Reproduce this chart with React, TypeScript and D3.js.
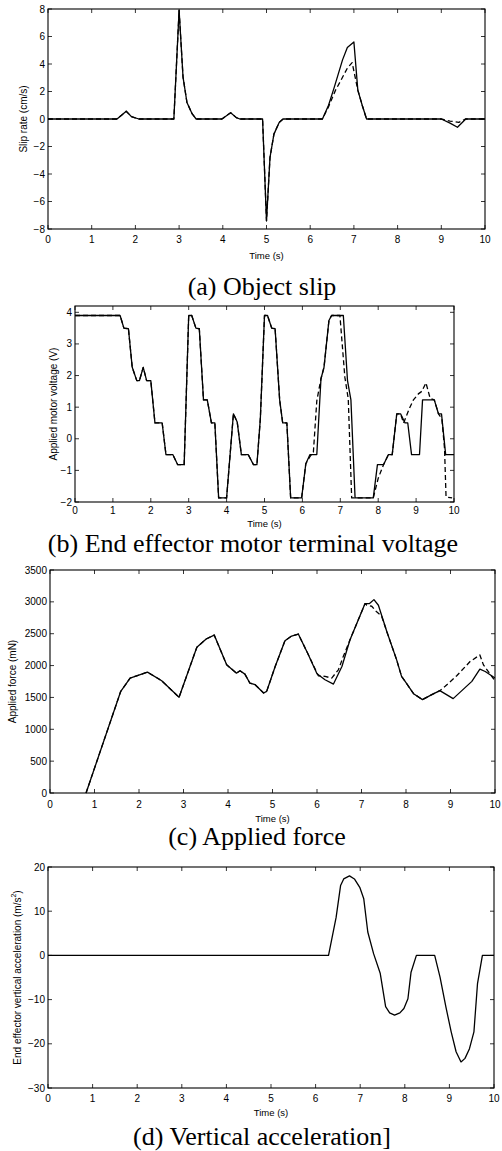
import React from "react";
import * as d3 from "d3";

// ---------- DATA ----------
const xTicks = [0, 1, 2, 3, 4, 5, 6, 7, 8, 9, 10];

// (a) Object slip
const slipTicks = [-8, -6, -4, -2, 0, 2, 4, 6, 8];
const slipSolidT = [0, 1.58, 1.79, 1.91, 2.08, 2.88, 3.0, 3.09, 3.18, 3.3, 3.39, 3.98, 4.18, 4.31, 4.39, 4.91, 5.0, 5.08, 5.17, 5.29, 5.38, 6.28, 6.42, 6.55, 6.74, 6.85, 7.0, 7.09, 7.19, 7.29, 9.0, 9.2, 9.37, 9.56, 10];
const slipSolid = [0, 0, 0.56, 0.17, 0, 0, 7.9, 3.05, 1.2, 0.37, 0, 0, 0.46, 0.1, 0, 0, -7.4, -2.8, -1.1, -0.25, 0, 0, 1.0, 2.3, 4.3, 5.2, 5.6, 2.1, 1.0, 0, 0, -0.3, -0.6, 0, 0];
const slipDashT = [0, 1.58, 1.79, 1.91, 2.08, 2.88, 3.0, 3.09, 3.18, 3.3, 3.39, 3.98, 4.18, 4.31, 4.39, 4.91, 5.0, 5.08, 5.17, 5.29, 5.38, 6.28, 6.42, 6.58, 6.7, 6.85, 6.96, 7.09, 7.19, 7.29, 9.0, 9.2, 9.4, 9.55, 10];
const slipDash = [0, 0, 0.56, 0.17, 0, 0, 7.9, 3.05, 1.2, 0.37, 0, 0, 0.46, 0.1, 0, 0, -7.4, -2.8, -1.1, -0.25, 0, 0, 0.9, 2.1, 2.8, 3.7, 4.1, 2.1, 1.0, 0, 0, -0.15, -0.25, 0, 0];

// (b) Motor voltage
const voltTicks = [-2, -1, 0, 1, 2, 3, 4];
const voltSolidT = [0, 1.19, 1.29, 1.41, 1.51, 1.63, 1.70, 1.80, 1.89, 2.0, 2.11, 2.30, 2.40, 2.58, 2.71, 2.88, 3.0, 3.08, 3.19, 3.28, 3.39, 3.49, 3.6, 3.69, 3.79, 4.0, 4.18, 4.28, 4.39, 4.57, 4.71, 4.80, 4.89, 5.0, 5.08, 5.19, 5.28, 5.40, 5.48, 5.59, 5.69, 5.98, 6.09, 6.2, 6.38, 6.49, 6.57, 6.70, 6.77, 7.08, 7.19, 7.28, 7.39, 7.87, 7.98, 8.14, 8.27, 8.37, 8.49, 8.59, 8.71, 8.78, 8.88, 9.09, 9.17, 9.48, 9.59, 9.67, 9.78, 10];
const voltSolid = [3.9, 3.9, 3.5, 3.48, 2.26, 1.84, 1.84, 2.26, 1.84, 1.84, 0.5, 0.5, -0.5, -0.5, -0.82, -0.82, 3.9, 3.9, 3.5, 3.48, 1.23, 1.23, 0.5, 0.5, -1.87, -1.87, 0.79, 0.53, -0.5, -0.5, -0.82, -0.82, 0.63, 3.9, 3.9, 3.5, 3.48, 1.23, 0.5, 0.5, -1.87, -1.87, -0.79, -0.5, -0.5, 1.9, 2.26, 3.74, 3.9, 3.9, 1.84, 1.23, -1.87, -1.87, -0.82, -0.82, -0.5, -0.5, 0.79, 0.79, 0.5, 0.5, -0.5, -0.5, 1.23, 1.23, 0.79, 0.79, -0.5, -0.5];
const voltDashT = [0, 1.19, 1.29, 1.41, 1.51, 1.63, 1.70, 1.80, 1.89, 2.0, 2.11, 2.30, 2.40, 2.58, 2.71, 2.88, 3.0, 3.08, 3.19, 3.28, 3.39, 3.49, 3.6, 3.69, 3.79, 4.0, 4.18, 4.28, 4.39, 4.57, 4.71, 4.80, 4.89, 5.0, 5.08, 5.19, 5.28, 5.40, 5.48, 5.59, 5.69, 5.98, 6.09, 6.19, 6.29, 6.38, 6.49, 6.57, 6.70, 6.77, 6.99, 7.12, 7.21, 7.30, 7.87, 8.0, 8.14, 8.27, 8.37, 8.49, 8.59, 8.67, 8.82, 8.93, 9.06, 9.15, 9.26, 9.37, 9.48, 9.59, 9.68, 9.75, 9.79, 9.95];
const voltDash = [3.9, 3.9, 3.5, 3.48, 2.26, 1.84, 1.84, 2.26, 1.84, 1.84, 0.5, 0.5, -0.5, -0.5, -0.82, -0.82, 3.9, 3.9, 3.5, 3.48, 1.23, 1.23, 0.5, 0.5, -1.87, -1.87, 0.79, 0.53, -0.5, -0.5, -0.82, -0.82, 0.63, 3.9, 3.9, 3.5, 3.48, 1.23, 0.5, 0.5, -1.87, -1.87, -0.79, -0.58, -0.42, 1.2, 1.9, 2.26, 3.74, 3.9, 3.9, 1.95, 1.26, -1.87, -1.87, -1.25, -0.82, -0.5, -0.5, 0.79, 0.79, 0.5, 0.95, 1.23, 1.42, 1.5, 1.77, 1.28, 1.23, 0.79, 0.63, -0.3, -1.84, -1.87];

// (c) Applied force
const forceTicks = [0, 500, 1000, 1500, 2000, 2500, 3000, 3500];
const forceSolidT = [0.81, 1.59, 1.80, 2.19, 2.51, 2.90, 3.30, 3.51, 3.69, 3.97, 4.19, 4.27, 4.38, 4.49, 4.61, 4.80, 4.87, 5.06, 5.28, 5.43, 5.58, 5.79, 6.0, 6.18, 6.37, 6.56, 6.74, 7.08, 7.18, 7.28, 7.38, 7.57, 7.79, 7.90, 7.98, 8.17, 8.37, 8.58, 8.76, 9.06, 9.48, 9.66, 9.78, 10];
const forceSolid = [0, 1596, 1803, 1897, 1762, 1502, 2287, 2417, 2479, 2011, 1881, 1918, 1866, 1726, 1700, 1570, 1596, 1985, 2391, 2464, 2495, 2193, 1871, 1778, 1710, 1985, 2401, 2973, 2973, 3035, 2947, 2531, 2089, 1830, 1752, 1559, 1466, 1544, 1606, 1481, 1752, 1944, 1907, 1804];
const forceDashT = [0.81, 1.59, 1.80, 2.19, 2.51, 2.90, 3.30, 3.51, 3.69, 3.97, 4.19, 4.27, 4.38, 4.49, 4.61, 4.80, 4.87, 5.06, 5.28, 5.43, 5.58, 5.79, 6.03, 6.18, 6.33, 6.48, 6.59, 6.74, 7.08, 7.12, 7.23, 7.34, 7.45, 7.57, 7.79, 7.90, 7.98, 8.17, 8.37, 8.58, 8.76, 8.88, 9.14, 9.44, 9.66, 9.74, 10];
const forceDash = [0, 1596, 1803, 1897, 1762, 1502, 2287, 2417, 2479, 2011, 1881, 1918, 1866, 1726, 1700, 1570, 1596, 1985, 2391, 2464, 2495, 2193, 1840, 1830, 1804, 1933, 2141, 2401, 2973, 2947, 2931, 2843, 2780, 2531, 2089, 1830, 1752, 1559, 1466, 1544, 1606, 1674, 1840, 2063, 2167, 2011, 1760];

// (d) Vertical acceleration
const accTicks = [-30, -20, -10, 0, 10, 20];
const accT = [0, 6.29, 6.46, 6.56, 6.63, 6.76, 6.87, 6.99, 7.08, 7.17, 7.30, 7.45, 7.57, 7.66, 7.77, 7.89, 7.98, 8.07, 8.14, 8.26, 8.67, 8.79, 8.92, 9.04, 9.15, 9.26, 9.35, 9.45, 9.55, 9.63, 9.74, 10];
const accV = [0, 0, 8.6, 15.8, 17.3, 18.0, 17.3, 15.4, 12.8, 5.3, 0.4, -4.1, -11.6, -13.0, -13.5, -13.0, -12.0, -9.8, -3.8, 0, 0, -4.9, -11.6, -17.3, -21.8, -24.1, -23.3, -21.1, -17.3, -6.4, 0, 0];

// ---------- RENDER ----------
const SANS = "'Liberation Sans', Arial, Helvetica, sans-serif";
const SERIF = "'Liberation Serif', 'Times New Roman', serif";

type Series = { t: number[]; v: number[]; dashed?: boolean };

type PanelProps = {
  x0: number; x1: number; y0: number; y1: number;
  yDomain: [number, number];
  yTicks: number[];
  series: Series[];
  yLabel: React.ReactNode;
  yLabelX: number;
  tickLabelY: number;
  timeY: number;
  caption: string;
  captionX: number;
  captionY: number;
};

const fmt = (v: number) => (v < 0 ? "\u2212" + Math.abs(v) : String(v));

function Panel(p: PanelProps) {
  const xs = d3.scaleLinear().domain([0, 10]).range([p.x0, p.x1]);
  const ys = d3.scaleLinear().domain(p.yDomain).range([p.y1, p.y0]);
  const tl = 4;
  const midX = (p.x0 + p.x1) / 2;
  const midY = (p.y0 + p.y1) / 2;
  return (
    <g>
      <defs>
        <clipPath id={`clip-${p.y0}`}>
          <rect x={p.x0} y={p.y0 - 1} width={p.x1 - p.x0} height={p.y1 - p.y0 + 2} />
        </clipPath>
      </defs>
      {p.series.map((s, i) => {
        const line = d3
          .line<number>()
          .x((_, j) => xs(s.t[j]))
          .y((d) => ys(d));
        return (
          <path
            key={i}
            d={line(s.v) || ""}
            fill="none"
            stroke="#000"
            strokeWidth={1.3}
            strokeDasharray={s.dashed ? "5,3" : undefined}
            strokeLinejoin="round"
            clipPath={`url(#clip-${p.y0})`}
          />
        );
      })}
      {xTicks.map((t) => (
        <g key={"x" + t}>
          <line x1={xs(t)} x2={xs(t)} y1={p.y1} y2={p.y1 - tl} stroke="#000" strokeWidth={0.8} />
          <line x1={xs(t)} x2={xs(t)} y1={p.y0} y2={p.y0 + tl} stroke="#000" strokeWidth={0.8} />
          <text x={xs(t)} y={p.tickLabelY} textAnchor="middle" dominantBaseline="central" fontFamily={SANS} fontSize={10}>
            {t}
          </text>
        </g>
      ))}
      {p.yTicks.map((v) => (
        <g key={"y" + v}>
          <line x1={p.x0} x2={p.x0 + tl} y1={ys(v)} y2={ys(v)} stroke="#000" strokeWidth={0.8} />
          <line x1={p.x1} x2={p.x1 - tl} y1={ys(v)} y2={ys(v)} stroke="#000" strokeWidth={0.8} />
          <text x={p.x0 - 3} y={ys(v)} textAnchor="end" dominantBaseline="central" fontFamily={SANS} fontSize={10}>
            {fmt(v)}
          </text>
        </g>
      ))}
      <rect x={p.x0} y={p.y0} width={p.x1 - p.x0} height={p.y1 - p.y0} fill="none" stroke="#000" strokeWidth={1.1} />
      <text x={midX} y={p.timeY} textAnchor="middle" dominantBaseline="central" fontFamily={SANS} fontSize={9.5}>
        Time (s)
      </text>
      <text
        transform={`translate(${p.yLabelX},${midY}) rotate(-90)`}
        textAnchor="middle"
        dominantBaseline="central"
        fontFamily={SANS}
        fontSize={10}
      >
        {p.yLabel}
      </text>
      <text x={p.captionX} y={p.captionY} textAnchor="middle" fontFamily={SERIF} fontSize={26}>
        {p.caption}
      </text>
    </g>
  );
}

export default function App() {
  return (
    <svg width={502} height={1151} style={{ position: "absolute", left: 0, top: 0, background: "#fff" }}>
      <rect width={502} height={1151} fill="#fff" />
      <Panel
        x0={48} x1={485} y0={9} y1={229}
        yDomain={[-8, 8]} yTicks={slipTicks}
        series={[
          { t: slipDashT, v: slipDash, dashed: true },
          { t: slipSolidT, v: slipSolid },
        ]}
        yLabel="Slip rate (cm/s)" yLabelX={23}
        tickLabelY={239} timeY={255}
        caption="(a) Object slip" captionX={262} captionY={295}
      />
      <Panel
        x0={75} x1={454} y0={306} y1={502}
        yDomain={[-2, 4.2]} yTicks={voltTicks}
        series={[
          { t: voltDashT, v: voltDash, dashed: true },
          { t: voltSolidT, v: voltSolid },
        ]}
        yLabel="Applied motor voltage (V)" yLabelX={53}
        tickLabelY={510} timeY={523}
        caption="(b) End effector motor terminal voltage" captionX={253} captionY={552}
      />
      <Panel
        x0={50} x1={495} y0={570} y1={793}
        yDomain={[0, 3500]} yTicks={forceTicks}
        series={[
          { t: forceDashT, v: forceDash, dashed: true },
          { t: forceSolidT, v: forceSolid },
        ]}
        yLabel="Applied force (mN)" yLabelX={12}
        tickLabelY={804} timeY={818}
        caption="(c) Applied force" captionX={257} captionY={845}
      />
      <Panel
        x0={48} x1={494} y0={867} y1={1088}
        yDomain={[-30, 20]} yTicks={accTicks}
        series={[{ t: accT, v: accV }]}
        yLabel={
          <>
            End effector vertical acceleration (m/s
            <tspan baselineShift="super" fontSize={7}>2</tspan>
            <tspan>)</tspan>
          </>
        }
        yLabelX={17}
        tickLabelY={1098} timeY={1112}
        caption="(d) Vertical acceleration]" captionX={262} captionY={1145}
      />
    </svg>
  );
}
